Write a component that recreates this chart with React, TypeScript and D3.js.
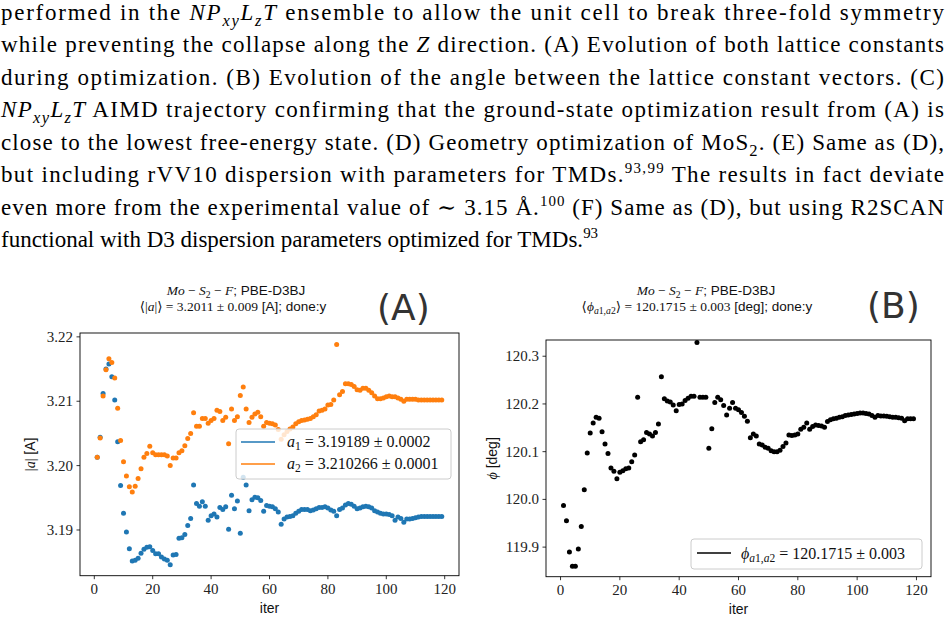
import * as d3 from "d3";

// iteration numbers (x) shared by both panels
const iters = d3.range(1, 120);

// panel A: lattice constants a1 (blue) and a2 (orange)
const a1 = [
  3.2013, 3.2044, 3.2112, 3.2150, 3.2158, 3.2138, 3.2102, 3.2037, 3.1969, 3.1926,
  3.1897, 3.1871, 3.1852, 3.1853, 3.1856, 3.1864, 3.1870, 3.1873, 3.1874, 3.1868,
  3.1863, 3.1863, 3.1858, 3.1855, 3.1853, 3.1846, 3.1861, 3.1862, 3.1887, 3.1888,
  3.1893, 3.1907, 3.1918, 3.1970, 3.1941, 3.1937, 3.1944, 3.1937, 3.1915, 3.1922,
  3.1925, 3.1920, 3.1935, 3.1932, 3.1936, 3.1901, 3.1954, 3.1933, 3.1945, 3.1895,
  3.1982, 3.1970, 3.1930, 3.1947, 3.1951, 3.1950, 3.1946, 3.1929, 3.1938, 3.1937,
  3.1936, 3.1933, 3.1928, 3.1909, 3.1917, 3.1920, 3.1921, 3.1922, 3.1926, 3.1929,
  3.1932, 3.1932, 3.1932, 3.1930, 3.1931, 3.1933, 3.1935, 3.1935, 3.1936, 3.1934,
  3.1931, 3.1929, 3.1922, 3.1932, 3.1934, 3.1939, 3.1941, 3.1940, 3.1937, 3.1933,
  3.1934, 3.1936, 3.1937, 3.1936, 3.1934, 3.1930, 3.1928, 3.1926, 3.1925, 3.1925,
  3.1924, 3.1922, 3.1915, 3.1920, 3.1918, 3.1912, 3.1917, 3.1917, 3.1918, 3.1919,
  3.1920, 3.1921, 3.1921, 3.1921, 3.1921, 3.1921, 3.1921, 3.1921, 3.1921,
];
const a2 = [
  3.2013, 3.2043, 3.2108, 3.2149, 3.2166, 3.2160, 3.2136, 3.2089, 3.2039, 3.2006,
  3.1984, 3.1967, 3.1959, 3.1968, 3.1980, 3.1995, 3.2013, 3.2019, 3.2030, 3.2020,
  3.2017, 3.2017, 3.2017, 3.2017, 3.2015, 3.2000, 3.2012, 3.2012, 3.2020, 3.2023,
  3.2031, 3.2042, 3.2050, 3.2082, 3.2061, 3.2061, 3.2073, 3.2073, 3.2066, 3.2070,
  3.2073, 3.2086, 3.2084, 3.2070, 3.2075, 3.2034, 3.2088, 3.2070, 3.2076, 3.2109,
  3.2122, 3.2088, 3.2067, 3.2075, 3.2080, 3.2083, 3.2076, 3.2061, 3.2067, 3.2066,
  3.2065, 3.2063, 3.2056, 3.2041, 3.2048, 3.2053, 3.2057, 3.2060, 3.2065, 3.2068,
  3.2070, 3.2071, 3.2072, 3.2073, 3.2076, 3.2079, 3.2085, 3.2086, 3.2088, 3.2094,
  3.2095, 3.2102, 3.2188, 3.2110, 3.2115, 3.2127, 3.2127, 3.2126, 3.2123, 3.2118,
  3.2117, 3.2120, 3.2120, 3.2117, 3.2113, 3.2108, 3.2104, 3.2104, 3.2105, 3.2107,
  3.2108, 3.2107, 3.2107, 3.2105, 3.2103, 3.2100, 3.2103, 3.2103, 3.2103, 3.2103,
  3.2102, 3.2102, 3.2102, 3.2102, 3.2102, 3.2102, 3.2102, 3.2102, 3.2102,
];

// panel B: angle between lattice vectors
const phi = [
  119.987, 119.955, 119.890, 119.860, 119.860, 119.896, 119.943, 120.020, 120.097, 120.139,
  120.160, 120.172, 120.170, 120.142, 120.116, 120.096, 120.066, 120.059, 120.043, 120.057,
  120.060, 120.064, 120.066, 120.079, 120.093, 120.214, 120.121, 120.125, 120.140, 120.137,
  120.133, 120.140, 120.158, 120.257, 120.211, 120.206, 120.204, 120.198, 120.186, 120.199,
  120.200, 120.207, 120.212, 120.216, 120.216, 120.329, 120.214, 120.214, 120.214, 120.107,
  120.148, 120.203, 120.214, 120.209, 120.197, 120.177, 120.191, 120.203, 120.191, 120.188,
  120.182, 120.174, 120.164, 120.129, 120.137, 120.133, 120.116, 120.114, 120.109, 120.107,
  120.102, 120.100, 120.100, 120.103, 120.111, 120.118, 120.135, 120.134, 120.135, 120.137,
  120.147, 120.151, 120.160, 120.147, 120.153, 120.156, 120.155, 120.154, 120.151, 120.163,
  120.167, 120.169, 120.170, 120.172, 120.173, 120.176, 120.177, 120.178, 120.179, 120.180,
  120.181, 120.181, 120.180, 120.179, 120.176, 120.172, 120.176, 120.175, 120.175, 120.174,
  120.173, 120.172, 120.172, 120.171, 120.170, 120.165, 120.169, 120.169, 120.169,
];

const xTicks = [0, 20, 40, 60, 80, 100, 120];
const aTicks = [3.19, 3.2, 3.21, 3.22];
const phiTicks = [119.9, 120.0, 120.1, 120.2, 120.3];

const BLUE = "#1f77b4";
const ORANGE = "#ff7f0e";
const SERIF = "Liberation Serif, DejaVu Serif, serif";
const SANS = "Liberation Sans, DejaVu Sans, sans-serif";

const I = ({ children }: { children: any }) => (
  <tspan fontStyle="italic" fontFamily={SERIF}>{children}</tspan>
);
// subscripts / superscripts via baseline-shift, so no empty helper spans
const Sub = ({ children, s = 6 }: { children: any; s?: number }) => (
  <tspan baselineShift={-s} fontSize="72%">{children}</tspan>
);
const Sup = ({ children }: { children: any }) => (
  <tspan baselineShift={9} fontSize="65%">{children}</tspan>
);

const NPLT = () => (
  <>
    <I>NP</I><Sub><tspan fontStyle="italic">xy</tspan></Sub><I>L</I>
    <Sub><tspan fontStyle="italic">z</tspan></Sub><I>T</I>
  </>
);

const paragraph: { content: any; justify: boolean }[] = [
  { content: <>performed in the <NPLT /> ensemble to allow the unit cell to break three-fold symmetry</>, justify: true },
  { content: <>while preventing the collapse along the <I>Z</I> direction. (A) Evolution of both lattice constants</>, justify: true },
  { content: <>during optimization. (B) Evolution of the angle between the lattice constant vectors. (C)</>, justify: true },
  { content: <><NPLT /> AIMD trajectory confirming that the ground-state optimization result from (A) is</>, justify: true },
  { content: <>close to the lowest free-energy state. (D) Geometry optimization of MoS<Sub>2</Sub>. (E) Same as (D),</>, justify: true },
  { content: <>but including rVV10 dispersion with parameters for TMDs.<Sup>93,99</Sup> The results in fact deviate</>, justify: true },
  { content: <>even more from the experimental value of ∼ 3.15 Å.<Sup>100</Sup> (F) Same as (D), but using R2SCAN</>, justify: true },
  { content: <>functional with D3 dispersion parameters optimized for TMDs.<Sup>93</Sup></>, justify: false },
];

function Axes({ x, y, xt, yt, yfmt }: any) {
  const [x0, x1] = x.range();
  const [y0, y1] = y.range();
  return (
    <g>
      <rect x={x0} y={y1} width={x1 - x0} height={y0 - y1} fill="none" stroke="#000" strokeWidth={0.9} />
      {xt.map((t: number) => (
        <g key={t}>
          <line x1={x(t)} x2={x(t)} y1={y0} y2={y0 + 3.5} stroke="#000" strokeWidth={0.8} />
          <text x={x(t)} y={y0 + 18.5} textAnchor="middle" fontFamily={SERIF} fontSize={15} fill="#222">{t}</text>
        </g>
      ))}
      {yt.map((t: number) => (
        <g key={t}>
          <line x1={x0 - 3.5} x2={x0} y1={y(t)} y2={y(t)} stroke="#000" strokeWidth={0.8} />
          <text x={x0 - 7} y={y(t) + 5} textAnchor="end" fontFamily={SERIF} fontSize={15} fill="#222">{yfmt(t)}</text>
        </g>
      ))}
      <text x={(x0 + x1) / 2} y={y0 + 37} textAnchor="middle" fontFamily={SANS} fontSize={14} fill="#111">iter</text>
    </g>
  );
}

export default function App() {
  const xA = d3.scaleLinear().domain([-4.9, 124.9]).range([80, 459]);
  const yA = d3.scaleLinear().domain([3.1829, 3.2206]).range([575.7, 333]);
  const xB = d3.scaleLinear().domain([-4.9, 124.9]).range([546, 931]);
  const yB = d3.scaleLinear().domain([119.838, 120.334]).range([576.7, 340]);

  return (
    <svg width={948} height={621} style={{ position: "absolute", left: 0, top: 0, background: "#fff" }}>
      {/* caption text */}
      <g fontFamily={SERIF} fontSize={23} fill="#000">
        {paragraph.map((l, i) => (
          <text key={i} x={1} y={19.5 + i * 32.5}
            {...(l.justify ? { textLength: 943, lengthAdjust: "spacing" } : {})}>
            {l.content}
          </text>
        ))}
      </g>

      {/* panel A */}
      <text x={236} y={295} textAnchor="middle" fontSize={13.5} fontFamily={SANS} fill="#111">
        <I>Mo</I><tspan fontFamily={SERIF}> − </tspan><I>S</I><tspan fontFamily={SERIF}><Sub s={2.5}>2</Sub> − </tspan><I>F</I>; PBE-D3BJ
      </text>
      <text x={233} y={311} textAnchor="middle" fontSize={13.5} fontFamily={SANS} fill="#111">
        <tspan fontFamily={SERIF}>⟨|<tspan fontStyle="italic">a</tspan>|⟩ = 3.2011 ± 0.009</tspan> [A]; done:y
      </text>
      <text x={377} y={320} fontFamily="DejaVu Sans, sans-serif" fontSize={36} fill="#333">(A)</text>

      <Axes x={xA} y={yA} xt={xTicks} yt={aTicks} yfmt={d3.format(".2f")} />
      <g>
        {iters.map((it, i) => (
          <circle key={"b" + it} cx={xA(it)} cy={yA(a1[i])} r={2.5} fill={BLUE} />
        ))}
        {iters.map((it, i) => (
          <circle key={"o" + it} cx={xA(it)} cy={yA(a2[i])} r={2.5} fill={ORANGE} />
        ))}
      </g>
      <text transform={`translate(35,${(333 + 575.7) / 2}) rotate(-90)`} textAnchor="middle" fontSize={14} fontFamily={SANS} fill="#111">
        <tspan fontFamily={SERIF}>|<tspan fontStyle="italic">a</tspan>|</tspan> [A]
      </text>
      <g>
        <rect x={236} y={429} width={215} height={50} rx={3} fill="#fff" fillOpacity={0.8} stroke="#ccc" strokeWidth={1} />
        <line x1={241} x2={275} y1={442} y2={442} stroke={BLUE} strokeWidth={1.5} />
        <line x1={241} x2={275} y1={464} y2={464} stroke={ORANGE} strokeWidth={1.5} />
        <text x={287} y={447} fontFamily={SERIF} fontSize={16} fill="#111">
          <tspan fontStyle="italic">a</tspan><Sub s={3}>1</Sub> = 3.19189 ± 0.0002
        </text>
        <text x={287} y={469} fontFamily={SERIF} fontSize={16} fill="#111">
          <tspan fontStyle="italic">a</tspan><Sub s={3}>2</Sub> = 3.210266 ± 0.0001
        </text>
      </g>

      {/* panel B */}
      <text x={706} y={295} textAnchor="middle" fontSize={13.5} fontFamily={SANS} fill="#111">
        <I>Mo</I><tspan fontFamily={SERIF}> − </tspan><I>S</I><tspan fontFamily={SERIF}><Sub s={2.5}>2</Sub> − </tspan><I>F</I>; PBE-D3BJ
      </text>
      <text x={697} y={311} textAnchor="middle" fontSize={13.5} fontFamily={SANS} fill="#111">
        <tspan fontFamily={SERIF}>⟨<tspan fontStyle="italic">ϕ</tspan><Sub s={3}><tspan fontStyle="italic">a</tspan>1,<tspan fontStyle="italic">a</tspan>2</Sub>⟩ = 120.1715 ± 0.003</tspan> [deg]; done:y
      </text>
      <text x={867} y={318} fontFamily="DejaVu Sans, sans-serif" fontSize={36} fill="#333">(B)</text>

      <Axes x={xB} y={yB} xt={xTicks} yt={phiTicks} yfmt={d3.format(".1f")} />
      <g>
        {iters.map((it, i) => (
          <circle key={"p" + it} cx={xB(it)} cy={yB(phi[i])} r={2.5} fill="#000" />
        ))}
      </g>
      <text transform={`translate(497,${(340 + 576.7) / 2}) rotate(-90)`} textAnchor="middle" fontSize={14} fontFamily={SANS} fill="#111">
        <tspan fontFamily={SERIF} fontStyle="italic">ϕ</tspan> [deg]
      </text>
      <g>
        <rect x={691} y={539} width={231} height={30} rx={3} fill="#fff" fillOpacity={0.8} stroke="#ccc" strokeWidth={1} />
        <line x1={697} x2={731} y1={553} y2={553} stroke="#000" strokeWidth={1.5} />
        <text x={741} y={559} fontFamily={SERIF} fontSize={16} fill="#111">
          <tspan fontStyle="italic">ϕ</tspan><Sub s={3}><tspan fontStyle="italic">a</tspan>1,<tspan fontStyle="italic">a</tspan>2</Sub> = 120.1715 ± 0.003
        </text>
      </g>
    </svg>
  );
}
